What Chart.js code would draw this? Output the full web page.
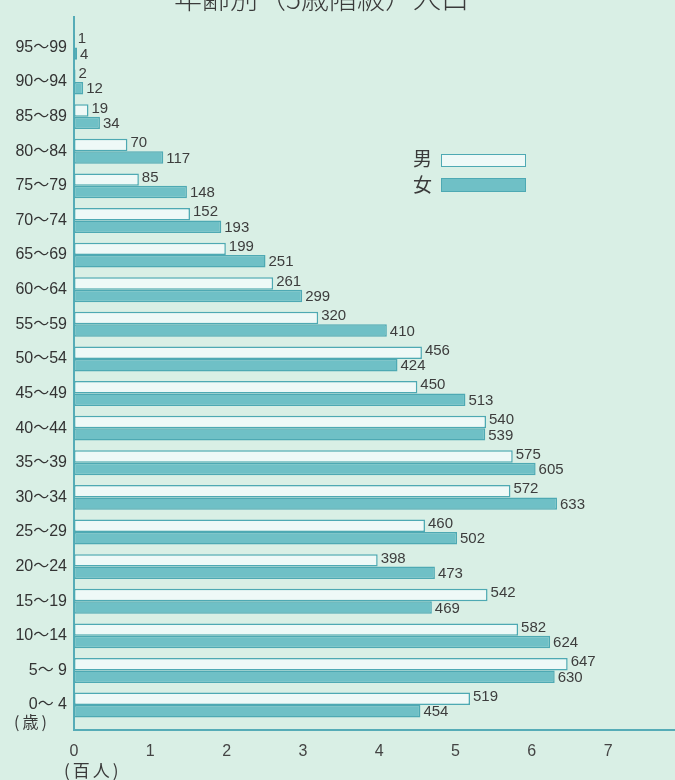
<!DOCTYPE html>
<html><head><meta charset="utf-8">
<script src="https://cdn.jsdelivr.net/npm/chart.js@4.4.0/dist/chart.umd.min.js"></script>
<style>
html,body{margin:0;padding:0;background:#d9efe5;overflow:hidden}
#wrap{position:relative;width:675px;height:780px;overflow:hidden}
canvas{position:absolute;left:0;top:0}
.t{position:absolute;font-family:"Noto Sans CJK JP","Noto Sans",sans-serif;color:#3a3a3a;white-space:nowrap;line-height:1}
.box{position:absolute;box-sizing:border-box;border:1.5px solid #4ea9b3}
</style></head><body>
<div id="wrap">
<canvas id="c" width="675" height="780"></canvas>
<div class="t" style="left:174px;top:-17px;font-size:28px;font-weight:300">年齢別（5歳階級）人口</div>
<div class="t" style="left:413px;top:148px;font-size:19px">男</div>
<div class="box" style="left:441px;top:154px;width:85px;height:13px;background:#eef9f7"></div>
<div class="t" style="left:413px;top:174px;font-size:19px">女</div>
<div class="box" style="left:441px;top:178px;width:85px;height:14px;background:#6fc0c6"></div>
<div class="t" style="left:14px;top:713px;font-size:16px;letter-spacing:3px">(歳)</div>
<div class="t" style="left:64px;top:761px;font-size:17px;letter-spacing:3px">(百人)</div>
</div>
<script>
const ageGroups = ["95～99","90～94","85～89","80～84","75～79","70～74","65～69","60～64","55～59","50～54","45～49","40～44","35～39","30～34","25～29","20～24","15～19","10～14","5～ 9","0～ 4"];
const male   = [1,2,19,70,85,152,199,261,320,456,450,540,575,572,460,398,542,582,647,519];
const female = [4,12,34,117,148,193,251,299,410,424,513,539,605,633,502,473,469,624,630,454];
const xTicks = [0,1,2,3,4,5,6,7];
const seriesNames = ["男","女"];
const rawSeries = [male, female];

const toPoints = arr => arr.map((v,i)=>({x:v/100, y:i}));

const valueLabels = {
  id:'valueLabels',
  afterDatasetsDraw(chart){
    const ctx = chart.ctx;
    ctx.save();
    ctx.font = '15px "Liberation Sans", Arial, sans-serif';
    ctx.fillStyle = '#3d3d3d';
    ctx.textBaseline = 'middle';
    ctx.textAlign = 'left';
    chart.data.datasets.forEach((ds,di)=>{
      const meta = chart.getDatasetMeta(di);
      meta.data.forEach((el,i)=>{
        ctx.fillText(String(rawSeries[di][i]), el.x + 3, el.y + (di===0 ? -2 : 1));
      });
    });
    ctx.restore();
  }
};

new Chart(document.getElementById('c'), {
  type:'bar',
  data:{
    datasets:[
      {label:seriesNames[0], data:toPoints(male), backgroundColor:'#eef9f7', borderColor:'#4ea9b3', borderWidth:1.5, borderSkipped:false},
      {label:seriesNames[1], data:toPoints(female), backgroundColor:'#6fc0c6', borderColor:'#4ea9b3', borderWidth:1.5, borderSkipped:false}
    ]
  },
  options:{
    indexAxis:'y',
    responsive:false,
    animation:false,
    devicePixelRatio:1,
    categoryPercentage:0.72,
    barPercentage:1,
    layout:{padding:{top:15,left:0,right:0,bottom:0}},
    plugins:{legend:{display:false}, tooltip:{enabled:false}, title:{display:false}},
    scales:{
      x:{
        type:'linear', min:0, max:(675-74)/76.3, offset:false,
        grid:{display:false, drawTicks:false},
        border:{display:true, color:'#56acb7', width:2},
        afterBuildTicks(scale){ scale.ticks = xTicks.map(v=>({value:v})); },
        afterFit(scale){ scale.height = 50; },
        ticks:{padding:12, color:'#444', font:{size:16, family:'"Liberation Sans", Arial, sans-serif'}, callback:v=>String(v), maxRotation:0, autoSkip:false}
      },
      y:{
        type:'linear', reverse:true, min:-0.89, max:19.72, offset:false,
        grid:{display:false, drawTicks:false, offset:false},
        border:{display:true, color:'#56acb7', width:2},
        afterBuildTicks(scale){ scale.ticks = ageGroups.map((_,i)=>({value:i})); },
        afterFit(scale){ scale.width = 74; },
        ticks:{padding:7, color:'#333', font:{size:16, family:'"Liberation Sans", "Noto Sans CJK JP", sans-serif'}, callback:v=>ageGroups[v], autoSkip:false}
      }
    }
  },
  plugins:[valueLabels]
});
</script>
</body></html>
